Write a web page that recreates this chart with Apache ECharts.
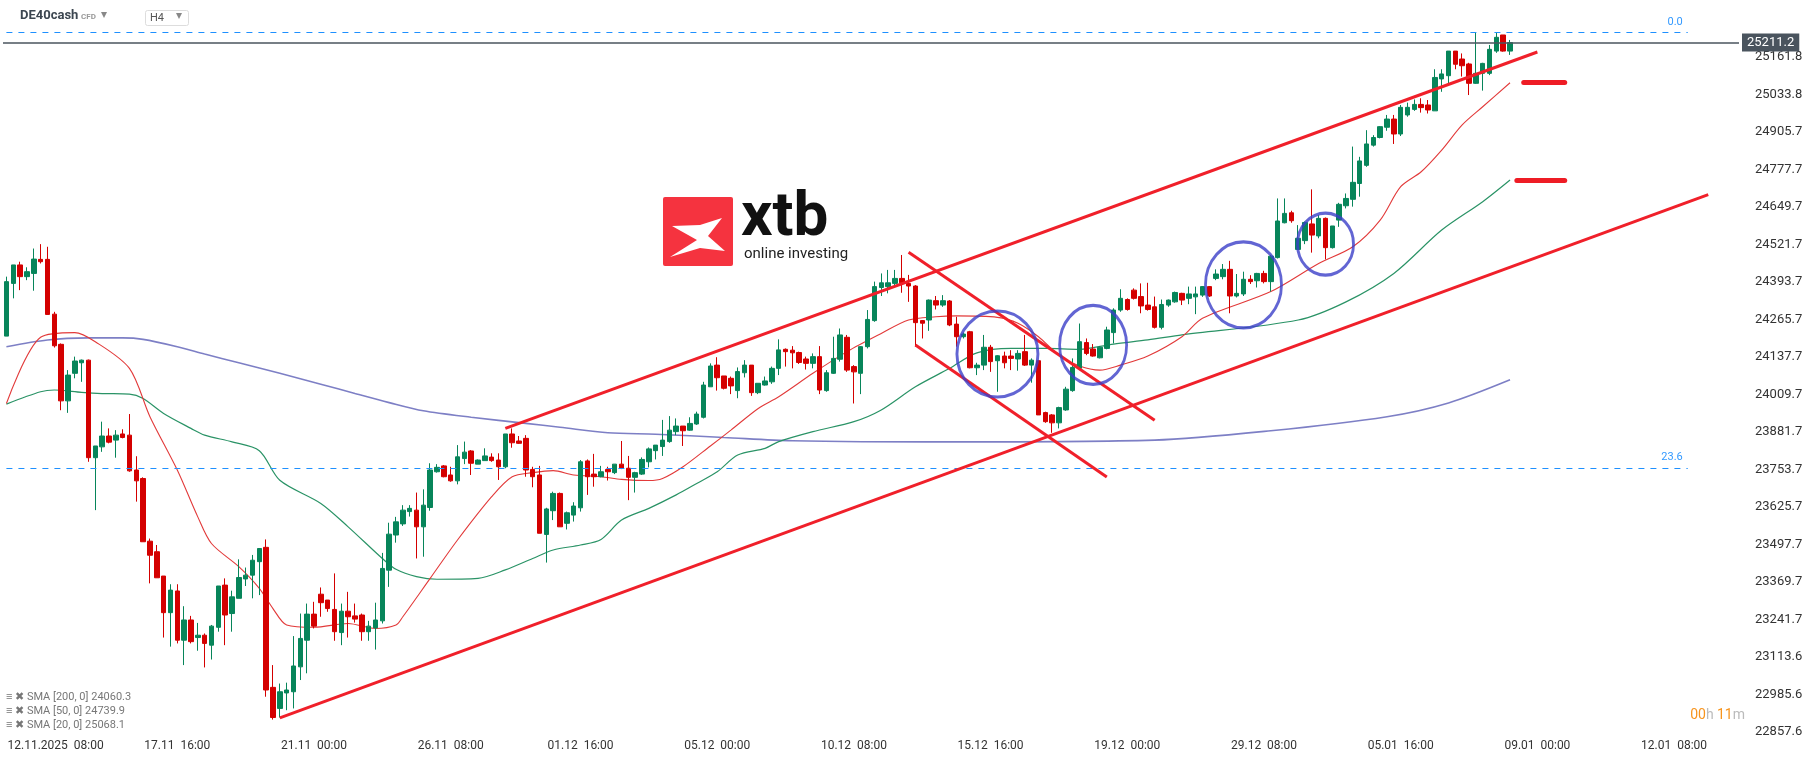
<!DOCTYPE html>
<html lang="en">
<head>
    <meta charset="UTF-8">
    <title>DE40cash H4</title>
    <script src="https://cdn.jsdelivr.net/npm/echarts@6/dist/echarts.min.js"></script>
    <style>
        html, body { margin: 0; padding: 0; background: #fff; }
        #main { width: 1815px; height: 761px; }
    </style>
</head>
<body>
<div id="main"></div>
<script>
    // candles: [open, close, low, high]
    const candles = [
        [24209,24395,24209,24412],[24389,24452,24338,24452],[24452,24412,24366,24463],[24412,24429,24400,24444],
        [24423,24472,24364,24508],[24471,24463,24457,24523],[24471,24283,24283,24514],[24284,24176,24170,24292],
        [24181,23988,23956,24184],[23988,24076,23947,24093],[24082,24124,24065,24139],[24118,24127,24053,24129],
        [24127,23794,23780,24129],[23794,23834,23615,23834],[23831,23868,23814,23917],[23868,23847,23843,23894],
        [23854,23871,23794,23888],[23875,23863,23860,23891],[23871,23749,23746,23943],[23752,23715,23644,23799],
        [23723,23507,23507,23727],[23509,23461,23365,23518],[23473,23384,23384,23496],[23390,23265,23180,23390],
        [23265,23342,23149,23362],[23339,23171,23160,23362],[23171,23240,23086,23287],[23240,23166,23160,23254],
        [23180,23188,23135,23230],[23188,23160,23078,23194],[23154,23219,23105,23223],[23215,23356,23200,23356],
        [23359,23257,23154,23382],[23262,23319,23200,23340],[23314,23385,23314,23447],[23380,23393,23356,23419],
        [23393,23444,23314,23462],[23439,23484,23325,23484],[23488,23001,22978,23515],[23010,22907,22900,23086],
        [22938,22995,22907,23023],[22991,23001,22932,23026],[22995,23083,22938,23185],[23080,23177,23035,23262],
        [23171,23260,23058,23296],[23260,23219,23211,23302],[23328,23299,23251,23351],[23308,23279,23268,23308],
        [23276,23200,23169,23399],[23197,23270,23154,23296],[23270,23251,23180,23336],[23254,23243,23231,23296],
        [23257,23200,23169,23262],[23200,23219,23169,23237],[23213,23240,23139,23299],[23237,23416,23228,23469],
        [23410,23533,23353,23572],[23530,23575,23504,23592],
        [23568,23615,23561,23632],[23610,23621,23593,23632],[23615,23558,23450,23675],[23558,23632,23456,23686],
        [23624,23752,23613,23775],[23746,23761,23743,23772],[23766,23729,23727,23769],[23735,23715,23712,23763],
        [23715,23797,23703,23837],[23791,23813,23772,23849],[23817,23775,23735,23820],[23772,23786,23772,23788],
        [23784,23800,23784,23826],[23796,23784,23780,23809],[23786,23763,23718,23809],[23763,23875,23758,23875],
        [23875,23845,23828,23894],[23851,23843,23841,23868],[23860,23752,23729,23871],[23754,23729,23693,23763],
        [23735,23536,23536,23766],[23532,23619,23436,23623],[23613,23672,23581,23678],[23672,23558,23558,23675],
        [23570,23606,23549,23610],[23598,23629,23576,23642],[23623,23780,23610,23786],[23783,23729,23667,23788],
        [23738,23729,23695,23807],[23729,23746,23727,23766],[23754,23746,23716,23763],[23743,23772,23738,23772],
        [23772,23758,23755,23851],[23758,23727,23649,23800],[23727,23743,23675,23746],[23738,23788,23735,23795],
        [23780,23824,23761,23829],[23818,23837,23788,23837],[23832,23854,23800,23923],[23849,23888,23845,23936],
        [23883,23902,23871,23928],[23902,23886,23834,23902],[23888,23911,23886,23932],[23909,23943,23906,23951],
        [23932,24042,23928,24053],[24036,24107,24036,24116],[24110,24067,24023,24137],[24073,24031,24027,24073],
        [24065,24039,24011,24071],[24023,24088,23997,24102],[24084,24110,24068,24127],[24110,24016,24005,24110],
        [24016,24048,24011,24048],[24042,24056,24040,24071],[24053,24099,24046,24105],[24099,24162,24076,24198],
        [24164,24156,24105,24167],
        [24161,24152,24099,24175],[24153,24119,24114,24156],[24131,24116,24095,24139],[24116,24139,24099,24150],
        [24139,24025,24011,24175],[24023,24084,24019,24093],[24082,24133,24080,24207],[24130,24213,24122,24235],
        [24205,24093,24087,24213],[24105,24087,23979,24110],[24082,24173,24011,24175],[24173,24266,24167,24298],
        [24262,24378,24258,24395],[24375,24391,24346,24423],[24378,24391,24355,24435],[24389,24406,24383,24435],
        [24406,24391,24357,24486],[24389,24380,24326,24418],[24380,24255,24173,24383],[24262,24253,24201,24264],
        [24264,24332,24227,24334],[24330,24315,24300,24346],[24315,24330,24309,24349],[24329,24247,24243,24332],
        [24250,24207,24173,24275],[24207,24216,24201,24221],[24224,24101,24099,24227],[24101,24110,24076,24118],
        [24110,24171,24093,24213],[24171,24122,24087,24179],[24125,24142,24019,24144],[24141,24118,24099,24156],
        [24141,24133,24093,24161],[24131,24150,24091,24161],[24156,24110,24107,24213],[24110,24127,24050,24133],
        [24125,23940,23940,24127],[23948,23917,23913,23951],[23940,23913,23879,23943],[23913,23965,23894,23968],
        [23957,24028,23954,24036],[24023,24102,24019,24133],[24099,24190,24093,24252],[24187,24150,24144,24201],
        [24165,24141,24139,24182],[24135,24171,24133,24175],[24167,24230,24164,24241],[24221,24298,24184,24304],
        [24298,24338,24292,24369],[24334,24300,24296,24338],[24366,24338,24334,24372],[24344,24312,24287,24389],
        [24315,24300,24296,24391],[24309,24239,24235,24344],[24239,24317,24232,24334],[24315,24332,24309,24334],
        [24326,24358,24323,24361],
        [24355,24332,24315,24357],[24338,24353,24318,24378],[24343,24353,24284,24378],[24349,24378,24343,24380],
        [24378,24346,24343,24380],[24406,24421,24400,24437],[24412,24437,24403,24455],[24437,24346,24287,24466],
        [24346,24355,24341,24421],[24353,24403,24346,24429],[24403,24395,24387,24417],[24398,24423,24375,24425],
        [24423,24395,24389,24432],[24395,24482,24361,24486],[24477,24602,24474,24679],[24596,24628,24594,24679],
        [24630,24603,24596,24637],[24505,24543,24503,24588],[24535,24597,24523,24600],[24592,24554,24494,24710],
        [24551,24611,24543,24622],[24611,24511,24471,24614],[24511,24585,24508,24585],[24605,24659,24582,24664],
        [24654,24679,24645,24696],[24676,24734,24651,24856],[24730,24807,24685,24821],[24792,24865,24787,24912],
        [24861,24887,24856,24895],[24887,24924,24884,24926],[24922,24950,24910,24964],[24950,24899,24865,24964],
        [24899,24990,24892,24998],[24964,24990,24958,25006],[24983,25000,24978,25017],[25000,24989,24972,25021],
        [24998,24981,24969,25015],[24978,25092,24978,25120],[25087,25104,25043,25120],[25098,25182,25066,25182],
        [25182,25137,25120,25182],[25155,25132,25095,25174],[25138,25072,25032,25142],[25072,25106,25070,25245],
        [25106,25140,25047,25142],[25106,25188,25100,25203],[25182,25229,25176,25245],[25237,25182,25180,25237],
        [25182,25211,25169,25220]
    ];

    // moving averages: [candle index, value]
    const sma20 = [[0,23979],[5,24205],[10,24221],[13,24190],[18,24099],[21,23934],[25,23752],[28,23592],[30,23501],
        [34,23422],[37,23348],[39,23279],[41,23223],[45,23215],[50,23228],[54,23211],[57,23223],[58,23251],
        [62,23382],[66,23513],[71,23661],[74,23729],[77,23743],[80,23750],[83,23735],[87,23729],[90,23720],
        [94,23716],[96,23723],[99,23763],[103,23834],[106,23888],[110,23962],[113,24002],[118,24082],[123,24156],
        [128,24218],[132,24264],[136,24275],[139,24278],[145,24273],[148,24253],[151,24207],[154,24144],[157,24107],
        [160,24093],[163,24110],[167,24141],[172,24207],[175,24270],[185,24361],[192,24457],[197,24514],[201,24605],
        [204,24719],[207,24770],[210,24844],[213,24930],[216,24992],[220,25074]];
    const sma50 = [[0,23977],[5,24019],[7,24025],[11,24017],[14,24013],[18,24011],[20,23996],[23,23945],[27,23894],
        [29,23871],[33,23848],[37,23818],[40,23717],[46,23638],[50,23558],[55,23450],[57,23413],[60,23388],
        [63,23379],[69,23382],[73,23411],[77,23450],[80,23479],[84,23496],[87,23515],[90,23581],[94,23621],
        [98,23667],[101,23706],[104,23746],[107,23803],[111,23826],[113,23849],[118,23883],[124,23917],[128,23957],
        [133,24036],[138,24099],[142,24152],[147,24167],[152,24167],[157,24164],[162,24182],[167,24196],[172,24213],
        [189,24264],[196,24326],[203,24423],[210,24571],[216,24668],[220,24742]];
    const sma200 = [[0,24173],[6,24196],[12,24203],[17,24203],[20,24198],[25,24173],[29,24148],[34,24118],[40,24082],
        [46,24045],[51,24013],[56,23982],[61,23954],[68,23932],[76,23911],[81,23898],[88,23879],[95,23874],
        [105,23863],[115,23852],[138,23848],[168,23854],[185,23886],[202,23934],[211,23981],[220,24060]];

    const yTicks = ['22857.6','22985.6','23113.6','23241.7','23369.7','23497.7','23625.7','23753.7','23881.7',
        '24009.7','24137.7','24265.7','24393.7','24521.7','24649.7','24777.7','24905.7','25033.8','25161.8'];
    const xTickIdx = [5, 25, 45, 65, 84, 104, 124, 144, 164, 184, 204, 224, 244];
    const xTickLabels = ['12.11.2025  08:00','17.11  16:00','21.11  00:00','26.11  08:00','01.12  16:00',
        '05.12  00:00','10.12  08:00','15.12  16:00','19.12  00:00','29.12  08:00','05.01  16:00',
        '09.01  00:00','12.01  08:00'];

    const lastPrice = 25211.2;
    const fibLevels = [[25246, '0.0'], [23759, '23.6']];
    // drawn annotations in [candle index, price]
    const trendLines = [
        [[73.3, 23894], [224.3, 25179]],
        [[39.8, 22906], [248.8, 24692]],
        [[131.5, 24495], [168.1, 23922]],
        [[132.9, 24179], [160.5, 23728]]
    ];
    const fibLine = [[-0.9, 24052], [215.5, 25246]];
    const targets = [[[221.9, 25076], [228.2, 25076]], [[221.2, 24742], [227.5, 24742]]];
    const circles = [[145.3, 24148, 81, 86], [159.2, 24179, 67, 79], [180.9, 24384, 76, 86], [192.5, 24523, 56, 62]];

    const nCats = 254;
    const yMin = 22857.6, yStep = 128.0128;
    const cats = [];
    for (let i = 0; i < nCats; i++) cats.push(String(i));

    let myChart = echarts.init(document.getElementById('main'));
    const font = 'Roboto, "Noto Sans", sans-serif';

    let markData = [];
    fibLevels.forEach(f => {
        markData.push([{coord: [-0.5, f[0]], lineStyle: {color: '#1e90ff', type: [6, 6], width: 1},
            label: {show: true, position: 'insideEndTop', formatter: f[1], color: '#3399ff', fontSize: 11, fontFamily: font}},
            {coord: [246, f[0]]}]);
    });
    trendLines.forEach(t => {
        markData.push([{coord: t[0], lineStyle: {color: '#f0202a', width: 3, type: 'solid'}, label: {show: false}}, {coord: t[1]}]);
    });
    markData.push([{coord: fibLine[0], lineStyle: {color: '#2196f3', width: 1.2, type: 'solid'}, label: {show: false}}, {coord: fibLine[1]}]);
    targets.forEach(t => {
        markData.push([{coord: t[0], lineStyle: {color: '#ee1c25', width: 5, type: 'solid', cap: 'round'}, label: {show: false}}, {coord: t[1]}]);
    });
    markData.push({yAxis: lastPrice, lineStyle: {color: '#4a545e', width: 1.5, type: 'solid'},
        label: {show: true, position: 'end', formatter: '25211.2', color: '#fff', backgroundColor: '#4a545e',
            padding: [3, 5, 2, 5], fontSize: 13, fontFamily: font, distance: 3}});

    let option = {
        animation: false,
        backgroundColor: '#fff',
        grid: {left: 3, right: 76, top: 19.5, bottom: 29},
        xAxis: {
            type: 'category', data: cats,
            axisLine: {show: false}, axisTick: {show: false}, splitLine: {show: false},
            axisLabel: {
                interval: (i) => xTickIdx.indexOf(i) >= 0,
                formatter: (v, i) => {
                    const k = xTickIdx.indexOf(i);
                    if (k < 0) return '';
                    return k === 0 ? '{f|' + xTickLabels[k] + '}' : xTickLabels[k];
                },
                rich: {f: {padding: [0, 0, 0, 30], color: '#333', fontSize: 12, fontFamily: font}},
                color: '#333', fontSize: 12, fontFamily: font, margin: 8
            }
        },
        yAxis: {
            type: 'value', position: 'right', scale: true,
            min: yMin, max: yMin + yStep * 19, interval: yStep,
            axisLine: {show: false}, axisTick: {show: false}, splitLine: {show: false},
            axisLabel: {
                formatter: (v) => yTicks[Math.round((v - yMin) / yStep)] || '',
                color: '#333', fontSize: 13, fontFamily: font, margin: 16
            }
        },
        graphic: [
            {type: 'text', left: 20, top: 9, style: {text: 'DE40cash', font: 'bold 13px ' + font, fill: '#3c4650'}},
            {type: 'text', left: 81, top: 13, style: {text: 'CFD', font: 'bold 8px ' + font, fill: '#999'}},
            {type: 'text', left: 101, top: 9, style: {text: '▾', font: '12px ' + font, fill: '#888'}},
            {type: 'rect', left: 145, top: 10, shape: {width: 43, height: 15, r: 2}, style: {fill: '#fff', stroke: '#ddd'}},
            {type: 'text', left: 150, top: 13, style: {text: 'H4', font: '11px ' + font, fill: '#555'}},
            {type: 'text', left: 176, top: 10, style: {text: '▾', font: '12px ' + font, fill: '#888'}},
            // watermark logo
            {type: 'rect', left: 663, top: 197, shape: {width: 70, height: 69, r: 2}, style: {fill: '#f5333f'}, z: 0},
            {type: 'polygon', shape: {points: [[670, 257], [697, 240], [672, 226], [700, 225], [722, 218], [708, 236], [725, 251], [700, 248]]},
                style: {fill: '#fff'}, z: 1},
            {type: 'text', left: 741, top: 188, style: {text: 'xtb', font: 'bold 62px ' + font, fill: '#111'}, z: 0},
            {type: 'text', left: 744, top: 247, style: {text: 'online investing', font: '15px ' + font, fill: '#222'}, z: 0},
            // indicator legend
            {type: 'text', left: 6, top: 692, style: {text: '≡ ✖ SMA [200, 0] 24060.3', font: '11px ' + font, fill: '#777'}},
            {type: 'text', left: 6, top: 706, style: {text: '≡ ✖ SMA [50, 0] 24739.9', font: '11px ' + font, fill: '#777'}},
            {type: 'text', left: 6, top: 720, style: {text: '≡ ✖ SMA [20, 0] 25068.1', font: '11px ' + font, fill: '#777'}},
            // countdown
            {type: 'text', right: 70, top: 708, style: {
                text: '{o|00}{g|h} {o|11}{g|m}',
                rich: {o: {fill: '#f7941d', font: '14px ' + font}, g: {fill: '#bbb', font: '14px ' + font}}}}
        ],
        series: [
            {
                name: 'SMA200', type: 'line', data: sma200, showSymbol: false, smooth: 0.3,
                lineStyle: {color: '#6668bb', width: 1.6, opacity: 0.85}, z: 2
            },
            {
                name: 'SMA50', type: 'line', data: sma50, showSymbol: false, smooth: 0.3,
                lineStyle: {color: '#2a9366', width: 1.2}, z: 2
            },
            {
                name: 'SMA20', type: 'line', data: sma20, showSymbol: false, smooth: 0.3,
                lineStyle: {color: '#e23a3a', width: 1.1}, z: 2
            },
            {
                name: 'DE40cash', type: 'candlestick', data: candles, barWidth: 5, z: 3,
                itemStyle: {color: '#07855a', color0: '#d40000', borderColor: '#07855a', borderColor0: '#d40000', borderWidth: 1},
                markLine: {symbol: 'none', silent: true, animation: false, data: markData}
            },
            {
                name: 'circles', type: 'scatter', z: 5, symbol: 'circle',
                data: circles.map(c => ({value: [c[0], c[1]], symbolSize: [c[2], c[3]]})),
                itemStyle: {color: 'rgba(0,0,0,0)', borderColor: '#3b3fc8', borderWidth: 3}
            }
        ]
    };
    myChart.setOption(option);
</script>
</body>
</html>
